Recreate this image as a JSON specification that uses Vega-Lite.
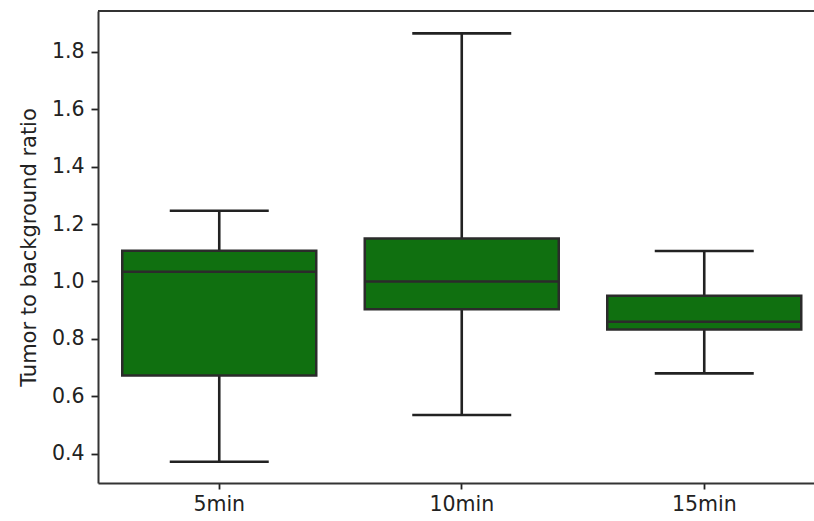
{
  "$schema": "https://vega.github.io/schema/vega-lite/v6.json",
  "autosize": "none",
  "width": 716,
  "height": 472,
  "padding": {"left": 98, "top": 11, "right": 0, "bottom": 38},
  "background": "white",
  "config": {
    "view": {"stroke": null},
    "font": "DejaVu Sans"
  },
  "datasets": {
    "boxes": [
      {"time": "5min", "min": 0.372, "q1": 0.672, "median": 1.034, "q3": 1.107, "max": 1.246},
      {"time": "10min", "min": 0.535, "q1": 0.903, "median": 1.0, "q3": 1.15, "max": 1.864},
      {"time": "15min", "min": 0.68, "q1": 0.833, "median": 0.86, "q3": 0.95, "max": 1.106}
    ],
    "frame": [{"top": 1.942}]
  },
  "layer": [
    {
      "data": {"name": "boxes"},
      "mark": {"type": "rule", "color": "#222222", "strokeWidth": 2.6},
      "encoding": {
        "x": {
          "field": "time",
          "type": "nominal",
          "sort": ["5min", "10min", "15min"],
          "scale": {"type": "band", "range": [0, 727.5], "paddingInner": 0, "paddingOuter": 0},
          "axis": {
            "title": null,
            "labelAngle": 0,
            "labelFontSize": 20.5,
            "labelColor": "#222222",
            "labelPadding": 5,
            "tickSize": 6,
            "tickWidth": 1.8,
            "tickColor": "#222222",
            "domainColor": "#333333",
            "domainWidth": 2,
            "grid": false
          }
        },
        "y": {
          "field": "min",
          "type": "quantitative",
          "scale": {"domain": [0.298, 1.942], "nice": false, "zero": false},
          "axis": {
            "title": "Tumor to background ratio",
            "titleFontSize": 21,
            "titleFontWeight": "normal",
            "titleColor": "#222222",
            "titlePadding": 12,
            "values": [0.4, 0.6, 0.8, 1.0, 1.2, 1.4, 1.6, 1.8],
            "format": ".1f",
            "labelFontSize": 20.5,
            "labelColor": "#222222",
            "labelPadding": 7,
            "tickSize": 7,
            "tickWidth": 1.8,
            "tickColor": "#222222",
            "domainColor": "#333333",
            "domainWidth": 2,
            "grid": false
          }
        },
        "y2": {"field": "max"}
      }
    },
    {
      "data": {"name": "boxes"},
      "mark": {"type": "bar", "width": {"band": 0.8}, "fill": "#107010", "stroke": "#2b2b2b", "strokeWidth": 2.5},
      "encoding": {
        "x": {"field": "time", "type": "nominal", "sort": ["5min", "10min", "15min"]},
        "y": {"field": "q1", "type": "quantitative"},
        "y2": {"field": "q3"}
      }
    },
    {
      "data": {"name": "boxes"},
      "mark": {"type": "tick", "color": "#2b2b2b", "size": 194, "thickness": 2.5, "opacity": 1},
      "encoding": {
        "x": {"field": "time", "type": "nominal", "sort": ["5min", "10min", "15min"]},
        "y": {"field": "median", "type": "quantitative"}
      }
    },
    {
      "data": {"name": "boxes"},
      "mark": {"type": "tick", "color": "#222222", "size": 99, "thickness": 2.6, "opacity": 1},
      "encoding": {
        "x": {"field": "time", "type": "nominal", "sort": ["5min", "10min", "15min"]},
        "y": {"field": "max", "type": "quantitative"}
      }
    },
    {
      "data": {"name": "boxes"},
      "mark": {"type": "tick", "color": "#222222", "size": 99, "thickness": 2.6, "opacity": 1},
      "encoding": {
        "x": {"field": "time", "type": "nominal", "sort": ["5min", "10min", "15min"]},
        "y": {"field": "min", "type": "quantitative"}
      }
    },
    {
      "data": {"name": "frame"},
      "mark": {"type": "rule", "color": "#333333", "strokeWidth": 2},
      "encoding": {
        "y": {"field": "top", "type": "quantitative"}
      }
    }
  ]
}
